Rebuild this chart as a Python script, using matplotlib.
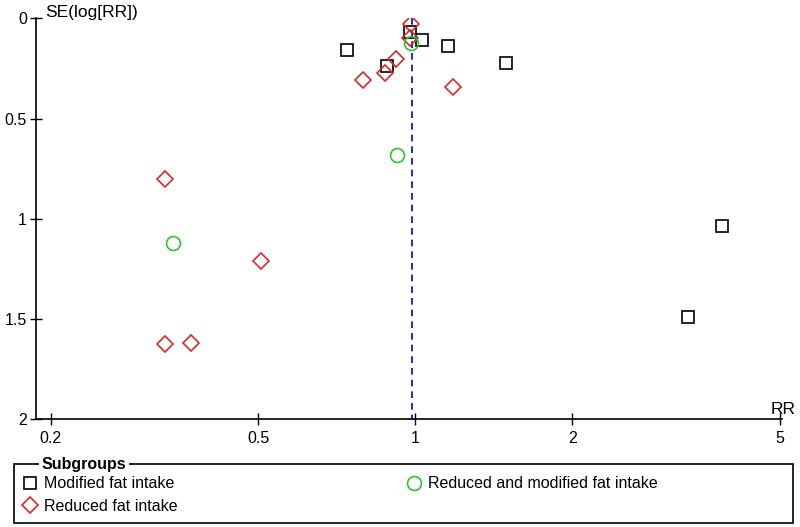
import numpy as np
import matplotlib
matplotlib.use('agg')
import matplotlib.pyplot as plt  # noqa
from matplotlib.patches import Rectangle

plt.rcParams['font.family'] = ['Liberation Sans', 'DejaVu Sans']

# Modified fat intake (squares)
mod_rr = [0.740, 0.882, 0.978, 1.031, 1.158, 1.492, 3.873, 3.333]
mod_se = [0.158, 0.238, 0.070, 0.110, 0.137, 0.224, 1.036, 1.488]

# Reduced fat intake (diamonds)
red_rr = [0.981, 0.979, 0.920, 0.876, 0.794, 1.184, 0.332, 0.507, 0.332, 0.372]
red_se = [0.028, 0.097, 0.203, 0.274, 0.308, 0.341, 0.801, 1.210, 1.624, 1.621]

# Reduced and modified fat intake (circles)
both_rr = [0.981, 0.922, 0.343]
both_se = [0.122, 0.682, 1.122]

pooled_rr = 0.986

x_ticks = [0.2, 0.5, 1, 2, 5]
y_ticks = [0, 0.5, 1, 1.5, 2]

fig = plt.figure(figsize=(8, 5.27), dpi=100)
ax = fig.add_axes([0.045, 0.2044, 0.9325, 0.7609])

ax.plot([pooled_rr, pooled_rr], [0, 2], color='#0000cc', lw=1.2,
        ls=(0, (4, 3)), zorder=1)

h_mod, = ax.plot(mod_rr, mod_se, ls='none', marker='s', ms=8.5, mfc='none',
                 mec='black', mew=1.2, label='Modified fat intake')
h_red, = ax.plot(red_rr, red_se, ls='none', marker='D', ms=8, mfc='none',
                 mec='#d42a2a', mew=1.2, label='Reduced fat intake')
h_both, = ax.plot(both_rr, both_se, ls='none', marker='o', ms=10, mfc='none',
                  mec='#2ec42e', mew=1.2,
                  label='Reduced and modified fat intake')

ax.set_xscale('log')
ax.set_xlim(0.1876, 5.05)
ax.set_ylim(2, 0)
ax.set_xticks(x_ticks)
ax.set_xticklabels([str(t) for t in x_ticks])
ax.xaxis.set_minor_locator(matplotlib.ticker.NullLocator())
ax.set_yticks(y_ticks)
ax.set_yticklabels(['0', '0.5', '1', '1.5', '2'])
ax.tick_params(direction='inout', length=9, width=1, labelsize=11.5,
               colors='black', pad=2)
ax.tick_params(axis='x', pad=4)
for s in ['top', 'right']:
    ax.spines[s].set_visible(False)
for s in ['left', 'bottom']:
    ax.spines[s].set_linewidth(1.2)

fig.text(45 / 800, 1 - 12 / 527, 'SE(log[RR])', fontsize=12.5,
         va='center', ha='left')
fig.text(796 / 800, 1 - 409 / 527, 'RR', fontsize=12.5,
         va='center', ha='right')

# legend box
fig.patches.append(Rectangle((14 / 800, 4 / 527), 779 / 800, 59 / 527,
                             transform=fig.transFigure, fill=False,
                             edgecolor='black', lw=1.2))
fig.text(42 / 800, 1 - 464 / 527, 'Subgroups', fontsize=11.5, weight='bold',
         va='center', ha='left',
         bbox=dict(facecolor='white', edgecolor='none', pad=2))
fig.legend(handles=[h_mod, h_red, h_both], ncol=2, loc='upper left',
           bbox_to_anchor=(23.6 / 800, 1 - 476.5 / 527), frameon=False,
           fontsize=11.5, handlelength=0.8, handletextpad=0.5,
           columnspacing=14.35, labelspacing=0.45, borderpad=0,
           borderaxespad=0)

fig.savefig('out.png', dpi=100)
